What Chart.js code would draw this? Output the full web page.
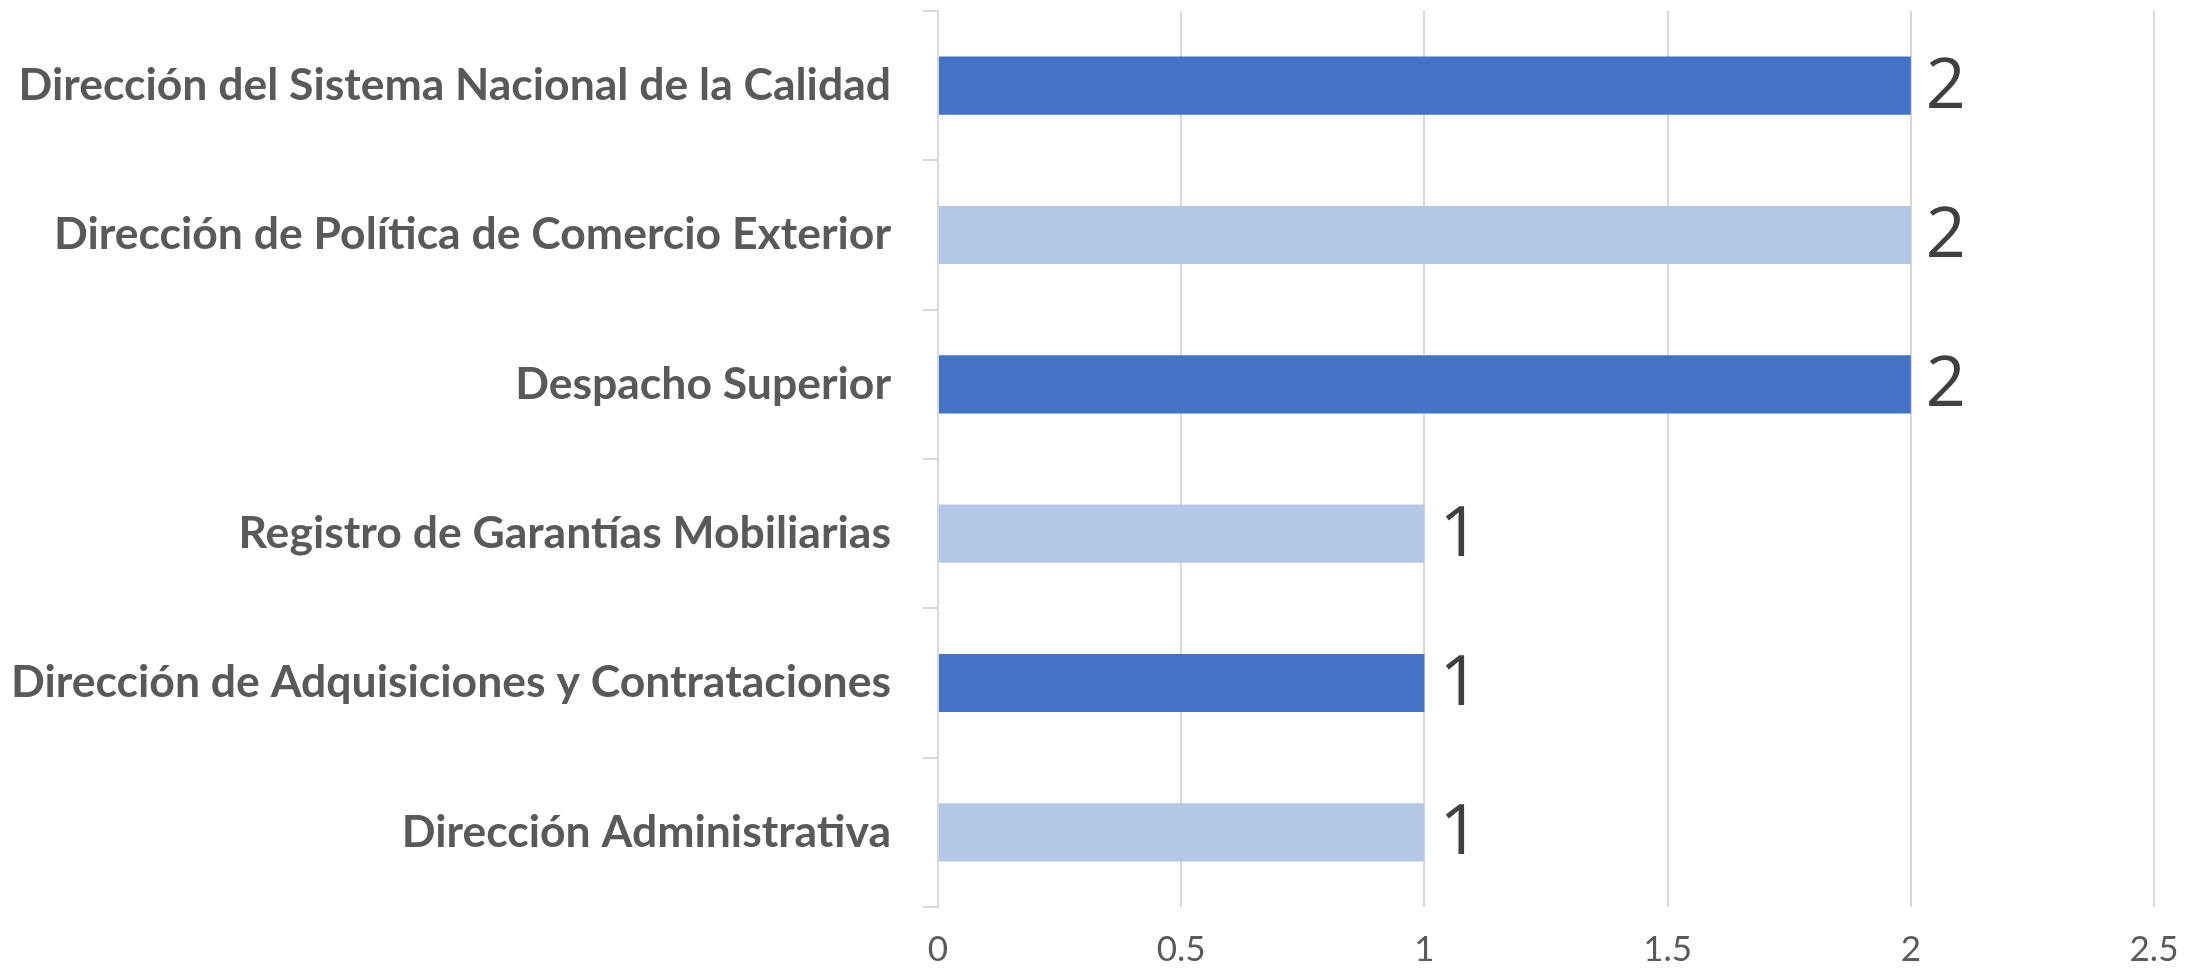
<!DOCTYPE html>
<html>
<head>
<meta charset="utf-8">
<script src="https://cdn.jsdelivr.net/npm/chart.js@4"></script>
<style>
  html, body { margin: 0; padding: 0; background: #fff; }
  #wrap { width: 2189px; height: 970px; }
</style>
</head>
<body>
<div id="wrap"><canvas id="mycanvas"></canvas></div>
<script>
var categories = [
	"Dirección del Sistema Nacional de la Calidad",
	"Dirección de Política de Comercio Exterior",
	"Despacho Superior",
	"Registro de Garantías Mobiliarias",
	"Dirección de Adquisiciones y Contrataciones",
	"Dirección Administrativa"
];
var values = [2, 2, 2, 1, 1, 1];
var barColors = ["#4472C4", "#B4C7E7", "#4472C4", "#B4C7E7", "#4472C4", "#B4C7E7"];
var xTicks = [0, 0.5, 1, 1.5, 2, 2.5];

// value labels at the end of each bar
var endLabels = {
	id: "endLabels",
	afterDatasetsDraw: function(chart) {
		var ctx = chart.ctx;
		var meta = chart.getDatasetMeta(0);
		ctx.save();
		ctx.font = "70px 'Open Sans'";
		ctx.fillStyle = "#404040";
		ctx.textAlign = "left";
		ctx.textBaseline = "middle";
		meta.data.forEach(function(bar, i) {
			ctx.fillText(String(values[i]), bar.x + 15, bar.y + 2);
		});
		ctx.restore();
	}
};

var ctx = document.getElementById("mycanvas");

var BarGraph = new Chart(ctx, {
	type: "bar",
	data: {
		labels: categories,
		datasets: [{
			data: values,
			backgroundColor: barColors,
			borderWidth: 0,
			categoryPercentage: 1,
			barPercentage: 0.39
		}]
	},
	options: {
		indexAxis: "y",
		responsive: true,
		maintainAspectRatio: false,
		animation: false,
		layout: { padding: { top: 11, right: 35, left: 0, bottom: 0 } },
		plugins: {
			legend: { display: false },
			tooltip: { enabled: false }
		},
		scales: {
			x: {
				min: 0,
				max: 2.5,
				afterBuildTicks: function(axis) {
					axis.ticks = xTicks.map(function(v) { return { value: v }; });
				},
				afterFit: function(axis) {
					axis.height = 63;
					axis.paddingLeft = 0;
					axis.paddingRight = 0;
				},
				border: { display: false },
				grid: { color: "#D9D9D9", lineWidth: 2, drawTicks: false },
				ticks: {
					padding: 22,
					color: "#595959",
					font: { family: "Lato", size: 35 },
					callback: function(v) { return String(v); }
				}
			},
			y: {
				afterFit: function(axis) {
					axis.width = 938;
					axis.paddingTop = 0;
					axis.paddingBottom = 0;
				},
				border: { display: true, color: "#D9D9D9", width: 2 },
				grid: { drawOnChartArea: false, color: "#D9D9D9", lineWidth: 2, tickLength: 15, offset: true },
				ticks: {
					padding: 32,
					color: "#595959",
					font: { family: "Lato", size: 44.5, weight: "bold" }
				}
			}
		}
	},
	plugins: [endLabels]
});
</script>
</body>
</html>
